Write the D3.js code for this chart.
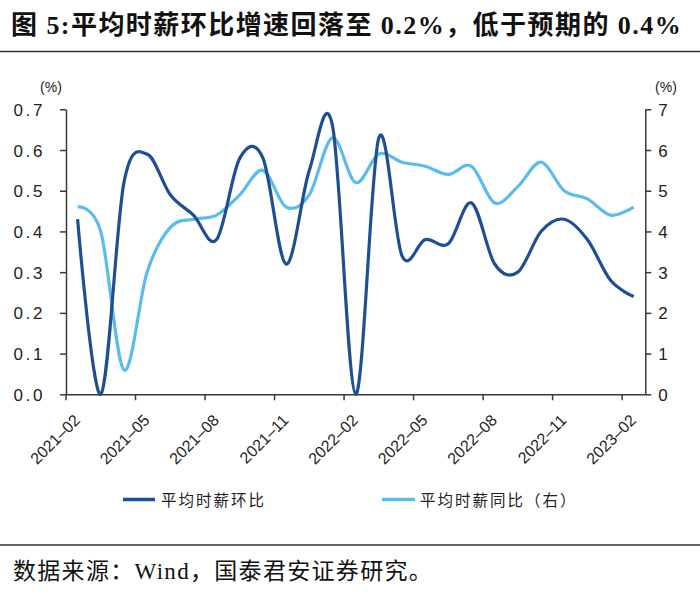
<!DOCTYPE html>
<html><head><meta charset="utf-8">
<script src="https://cdn.jsdelivr.net/npm/d3@7/dist/d3.min.js"></script>
<style>
html,body{margin:0;padding:0;background:#fff;}
svg{display:block;}
</style></head>
<body>
<svg id="chart" width="700" height="596"></svg>
<script>
const titleText = "图 5:平均时薪环比增速回落至 0.2%，低于预期的 0.4%";
const sourceText = "数据来源：Wind，国泰君安证券研究。";
const months = ["2021-02","2021-03","2021-04","2021-05","2021-06","2021-07","2021-08","2021-09","2021-10","2021-11","2021-12","2022-01","2022-02","2022-03","2022-04","2022-05","2022-06","2022-07","2022-08","2022-09","2022-10","2022-11","2022-12","2023-01","2023-02"];
const tickMonths = ["2021-02","2021-05","2021-08","2021-11","2022-02","2022-05","2022-08","2022-11","2023-02"];
const momValues = [0.43,0.00,0.52,0.59,0.49,0.44,0.38,0.58,0.58,0.32,0.55,0.66,0.00,0.63,0.34,0.38,0.37,0.47,0.32,0.30,0.40,0.43,0.38,0.28,0.24];
const yoyValues = [4.6,4.0,0.6,3.0,4.1,4.3,4.4,4.9,5.5,4.6,4.9,6.3,5.2,5.9,5.7,5.6,5.4,5.6,4.7,5.1,5.7,5.0,4.8,4.4,4.6];
const leftTicks = [0,0.1,0.2,0.3,0.4,0.5,0.6,0.7];
const rightTicks = [0,1,2,3,4,5,6,7];
const seriesNames = ["平均时薪环比","平均时薪同比（右）"];
const colors = ["#1f4f93","#5bbcec"];

(function(){
const svg = d3.select("#chart");
const axisColor = "#3a3a3a";

function fitText(sel, str, target) {
  const w = sel.node().getComputedTextLength();
  const n = Array.from(str).length;
  sel.attr("letter-spacing", ((target - w) / n).toFixed(2) + "px");
}

// Title
const title = svg.append("text").attr("x", 11).attr("y", 34)
  .attr("font-family", "'Liberation Serif','Noto Sans CJK SC',serif")
  .attr("font-weight", "bold").attr("font-size", 26).attr("fill", "#111")
  .text(titleText);
fitText(title, titleText, 671);
svg.append("line").attr("x1", 0).attr("x2", 700).attr("y1", 51.5).attr("y2", 51.5)
  .attr("stroke", "#333").attr("stroke-width", 1.5);

// Scales
const pLeft = 66, pRight = 645.3, pTop = 109.3, pBottom = 394.3;
const x = d3.scaleBand().domain(months).range([pLeft, pRight]);
const xc = m => x(m) + x.bandwidth() / 2;
const yL = d3.scaleLinear().domain([0, 0.7]).range([pBottom, pTop]);
const yR = d3.scaleLinear().domain([0, 7]).range([pBottom, pTop]);

// Left axis
const gL = svg.append("g").attr("transform", `translate(${pLeft},0)`)
  .call(d3.axisLeft(yL).tickValues(leftTicks).tickSize(6).tickSizeOuter(0).tickFormat(d3.format(".1f")));
gL.selectAll("path,line").attr("stroke", axisColor).attr("stroke-width", 1.5);
gL.selectAll("text").attr("font-family", "'Liberation Sans',Arial,sans-serif")
  .attr("font-size", 17).attr("fill", "#222").attr("letter-spacing", "2.6px")
  .attr("x", -21).attr("dy", "0.36em");

// Right axis
const gR = svg.append("g").attr("transform", `translate(${pRight},0)`)
  .call(d3.axisRight(yR).tickValues(rightTicks).tickSize(6).tickSizeOuter(0).tickFormat(d3.format("d")));
gR.selectAll("path,line").attr("stroke", axisColor).attr("stroke-width", 1.5);
gR.selectAll("text").attr("font-family", "'Liberation Sans',Arial,sans-serif")
  .attr("font-size", 17).attr("fill", "#222").attr("x", 13).attr("dy", "0.36em");

// Units
svg.append("text").attr("x", 51).attr("y", 92).attr("text-anchor", "middle")
  .attr("font-family", "'Liberation Sans',sans-serif").attr("font-size", 14).attr("fill", "#222").text("(%)");
svg.append("text").attr("x", 666).attr("y", 92).attr("text-anchor", "middle")
  .attr("font-family", "'Liberation Sans',sans-serif").attr("font-size", 14).attr("fill", "#222").text("(%)");

// Bottom axis
const xAxis = d3.axisBottom(x).tickValues(tickMonths).tickSize(6).tickSizeOuter(0)
  .tickFormat(d => d.replace("-", "–"));
const gB = svg.append("g").attr("transform", `translate(0,${pBottom})`).call(xAxis);
gB.select("path").attr("d", `M${pLeft},0.5H${pRight}`);
gB.selectAll(".tick").attr("transform", d => `translate(${x(d)},0)`);
gB.selectAll("path,line").attr("stroke", axisColor).attr("stroke-width", 1.5);
gB.selectAll("text")
  .attr("font-family", "'Liberation Sans',Arial,sans-serif").attr("font-size", 16).attr("fill", "#222")
  .attr("text-anchor", "end").attr("x", null).attr("y", null).attr("dy", null)
  .attr("transform", "translate(15,27) rotate(-45)");

// Lines
const curve = d3.curveCardinal.tension(0);
const lineL = d3.line().x((d, i) => xc(months[i])).y(d => yL(d)).curve(curve);
const lineR = d3.line().x((d, i) => xc(months[i])).y(d => yR(d)).curve(curve);
svg.append("path").datum(yoyValues).attr("d", lineR).attr("fill", "none")
  .attr("stroke", colors[1]).attr("stroke-width", 3.2).attr("stroke-linejoin", "round");
svg.append("path").datum(momValues).attr("d", lineL).attr("fill", "none")
  .attr("stroke", colors[0]).attr("stroke-width", 3.2).attr("stroke-linejoin", "round");

// Legend
const legendItems = [{x1: 123, x2: 155, tx: 161}, {x1: 382, x2: 415, tx: 420}];
legendItems.forEach((l, i) => {
  svg.append("line").attr("x1", l.x1).attr("x2", l.x2).attr("y1", 499.5).attr("y2", 499.5)
    .attr("stroke", colors[i]).attr("stroke-width", 3.5);
  svg.append("text").attr("x", l.tx).attr("y", 505.5)
    .attr("font-family", "'Noto Sans CJK SC',sans-serif").attr("font-size", 15.5)
    .attr("letter-spacing", "2px").attr("fill", "#222").text(seriesNames[i]);
});

// Footer
svg.append("line").attr("x1", 0).attr("x2", 700).attr("y1", 545).attr("y2", 545)
  .attr("stroke", "#333").attr("stroke-width", 1.5);
const src = svg.append("text").attr("x", 13).attr("y", 579)
  .attr("font-family", "'Liberation Serif','Noto Sans CJK SC',serif")
  .attr("font-size", 23).attr("fill", "#111").text(sourceText);
fitText(src, sourceText, 420);
})();
</script>
</body></html>
